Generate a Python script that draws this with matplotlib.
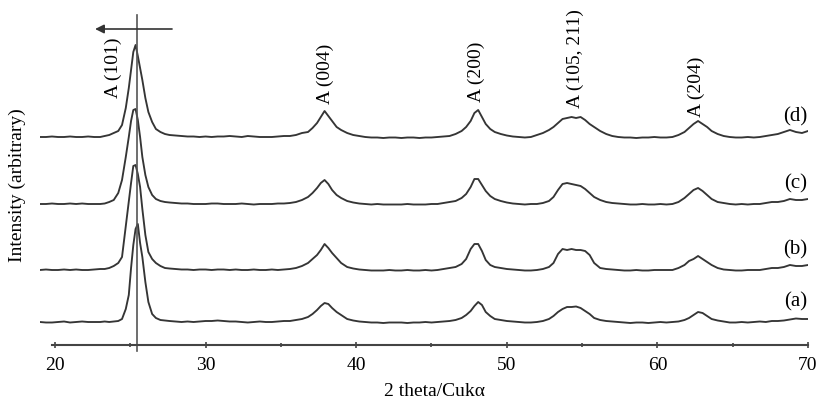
import matplotlib
matplotlib.use("Agg")
import matplotlib.pyplot as plt
from matplotlib.ticker import MultipleLocator

# ---- data (2-theta grid and intensities above each pattern's own baseline) ----
two_theta = [
    19.0, 19.4, 19.8, 20.2, 20.6, 21.0, 21.4, 21.8, 22.2, 22.6,
    23.0, 23.3, 23.6, 23.9, 24.2, 24.45, 24.7, 24.9, 25.05, 25.2,
    25.35, 25.5, 25.65, 25.8, 26.0, 26.2, 26.45, 26.7, 27.0, 27.3,
    27.6, 28.0, 28.4, 28.8, 29.2, 29.6, 30.0, 30.4, 30.8, 31.2,
    31.6, 32.0, 32.4, 32.8, 33.2, 33.6, 34.0, 34.4, 34.8, 35.2,
    35.6, 36.0, 36.4, 36.8, 37.1, 37.4, 37.65, 37.9, 38.15, 38.4,
    38.7, 39.0, 39.4, 39.8, 40.2, 40.6, 41.0, 41.4, 41.8, 42.2,
    42.6, 43.0, 43.4, 43.8, 44.2, 44.6, 45.0, 45.4, 45.8, 46.2,
    46.6, 47.0, 47.3, 47.6, 47.85, 48.1, 48.35, 48.6, 48.9, 49.2,
    49.6, 50.0, 50.4, 50.8, 51.2, 51.6, 52.0, 52.4, 52.8, 53.1,
    53.4, 53.7, 54.0, 54.3, 54.6, 54.9, 55.2, 55.5, 55.8, 56.2,
    56.6, 57.0, 57.4, 57.8, 58.2, 58.6, 59.0, 59.4, 59.8, 60.2,
    60.6, 61.0, 61.4, 61.8, 62.1, 62.4, 62.7, 63.0, 63.3, 63.6,
    64.0, 64.4, 64.8, 65.2, 65.6, 66.0, 66.4, 66.8, 67.2, 67.6,
    68.0, 68.4, 68.8, 69.2, 69.6, 70.0,
]

int_a = [
    1, 0.5, 0.5, 1, 1.5, 0.5, 1, 1.5, 1, 1,
    1, 1.5, 1, 1.5, 2, 4, 14, 28, 55, 78,
    94, 99, 80, 66, 41, 21, 9, 5, 3, 2.5,
    2, 1.5, 1, 1.5, 1, 1.5, 2, 2, 2.5, 2,
    1.5, 1.5, 1, 0.5, 1, 1.5, 1, 1, 1.5, 2,
    2, 3, 4, 6, 9, 13, 17, 20, 19, 15,
    11, 8, 4, 2.5, 1.5, 1, 0.5, 0.5, 0, 0.5,
    0.5, 0.5, 0, 0.5, 0.5, 1, 0.5, 1, 1.5, 2,
    3, 5, 8, 12, 17, 21, 18, 11, 7, 4,
    3, 2, 1.5, 1, 0.5, 0.5, 1, 2, 4, 7,
    11, 14, 16, 16, 16.5, 15, 12, 9, 5, 3,
    2, 1.5, 1, 0.5, 0, 0.5, 0.5, 0, 0.5, 1,
    0.5, 1, 1.5, 3, 5, 8, 11, 10, 7, 4,
    2.5, 1.5, 0.5, 0.5, 1, 0.5, 1, 1.5, 1, 2,
    2, 2.5, 3.5, 4.5, 4, 4,
]

int_b = [
    1, 1.5, 1, 1, 1.5, 1, 1.5, 1, 1, 1.5,
    2, 2, 3, 5, 8, 14, 45, 70, 88, 105,
    106, 97, 84, 62, 36, 19, 12, 8, 5, 3,
    2.5, 2, 1.5, 1.5, 1, 1.5, 1.5, 1, 1.5, 1.5,
    1, 1.5, 1, 1, 1.5, 1, 1, 1.5, 1, 1.5,
    2, 3, 5, 8, 12, 16, 21, 27, 23, 18,
    13, 8, 4, 2.5, 1.5, 1, 0.5, 0.5, 0.5, 1,
    0.5, 0.5, 1, 0.5, 0.5, 1, 0.5, 1, 2, 3,
    4, 7, 12, 22, 27, 27, 20, 11, 6, 4,
    3, 2, 1.5, 1, 0.5, 0.5, 1, 2, 4, 8,
    17, 22, 21, 22, 21, 21, 20, 16, 8, 3,
    2, 1.5, 1, 0.5, 0.5, 1, 0.5, 0.5, 1, 1,
    1, 1, 3, 6, 10, 12, 15, 12, 9, 6,
    3, 1.5, 1, 0.5, 0.5, 1, 1, 1, 2, 3,
    3, 4, 6, 5, 5, 6,
]

int_c = [
    1, 1, 1.5, 1, 1, 1.5, 1, 1.5, 1, 1,
    1, 1.5, 3, 5, 12, 25, 48, 68, 84, 95,
    96, 85, 68, 48, 30, 18, 10, 6, 4, 3,
    2.5, 2, 1.5, 1.5, 1, 1, 1, 1.5, 1.5, 1,
    1, 1, 1.5, 1, 0.5, 1, 1, 1, 1.5, 1.5,
    2, 3, 5, 8, 12, 17, 22, 25, 21, 15,
    10, 7, 4, 2.5, 1.5, 1, 0.5, 1, 0.5, 0.5,
    0.5, 0.5, 1, 0.5, 0.5, 0.5, 1, 1, 2, 3,
    4, 7, 11, 18, 26, 26, 20, 14, 9, 6,
    4, 2.5, 1.5, 1, 0.5, 1, 1, 2, 4, 8,
    15, 21, 22, 21, 20, 19, 16, 12, 8, 5,
    3, 2, 1.5, 1, 0.5, 0.5, 1, 0.5, 0.5, 1,
    0.5, 1, 3, 7, 11, 15, 17, 14, 10, 6,
    3, 2, 1, 0.5, 1, 0.5, 1, 1, 2, 3,
    3, 4, 6, 5, 5, 6,
]

int_d = [
    1, 1, 1.5, 1, 1, 1.5, 1, 1, 1.5, 1,
    1, 2, 3, 5, 7, 13, 30, 50, 68, 86,
    93, 82, 70, 58, 40, 26, 16, 9, 6, 4,
    3, 2.5, 2, 1.5, 1.5, 1, 1.5, 1, 1.5, 1.5,
    2, 1.5, 1, 2, 1.5, 1, 1, 1, 1.5, 2,
    2, 3, 5, 6, 10, 15, 21, 27, 22, 17,
    11, 8, 5, 3, 2, 1, 0.5, 0.5, 0, 0.5,
    0.5, 0, 0.5, 0.5, 0, 0.5, 0.5, 1, 1.5, 2,
    4, 7, 11, 17, 25, 28, 21, 14, 9, 6,
    4, 2.5, 1.5, 1, 0.5, 1, 3, 5, 8, 11,
    15, 19, 20, 21, 20, 21, 18, 14, 11, 7,
    4, 2, 1, 0.5, 0.5, 0, 0.5, 0.5, 1, 0.5,
    0.5, 1, 3, 6, 10, 14, 17, 14, 11, 7,
    4, 2, 1, 0.5, 0.5, 1, 0.5, 1, 2, 3,
    4, 6, 8, 6, 5, 7,
]

patterns = ["(a)", "(b)", "(c)", "(d)"]
offsets = [22, 74, 140, 207]

peak_labels = ["A (101)", "A (004)", "A (200)", "A (105, 211)", "A (204)"]
peak_label_x = [23.9, 37.93, 47.95, 54.53, 62.56]
peak_label_y = [247, 241, 243, 237, 228]

# ---- figure ----
plt.rcParams["font.family"] = ["Liberation Serif", "DejaVu Serif"]
fig = plt.figure(figsize=(8.19, 4.03), dpi=100)
ax = fig.add_axes([39.94 / 819, 58 / 403, (808 - 39.94) / 819, 340 / 403])

line_color = "#353535"
for name, off, ys in zip(patterns, offsets, [int_a, int_b, int_c, int_d]):
    ax.plot(two_theta, [v + off for v in ys], color=line_color, lw=1.35)

for name, off in zip(patterns, offsets):
    ax.text(69.93, off + 21, name, ha="right", va="center", fontsize=15)

for lab, lx, ly in zip(peak_labels, peak_label_x, peak_label_y):
    ax.text(lx, ly, lab, rotation=90, ha="center", va="bottom", fontsize=14)

# reference line and shift arrow
ax.plot([25.44, 25.44], [-6, 330], color="#555555", lw=1.2, clip_on=False)
ax.annotate("", xy=(22.66, 316), xytext=(27.77, 316),
            arrowprops=dict(arrowstyle="-|>", color="#333333", lw=1.2,
                            mutation_scale=13, shrinkA=0, shrinkB=0),
            annotation_clip=False)

ax.set_xlim(19.0, 70.0)
ax.set_ylim(0, 340)
for s in ["left", "right", "top"]:
    ax.spines[s].set_visible(False)
ax.spines["bottom"].set_bounds(19.8, 70)
ax.spines["bottom"].set_color("#444444")
ax.spines["bottom"].set_linewidth(1.5)
ax.set_yticks([])
ax.xaxis.set_major_locator(MultipleLocator(10))
ax.xaxis.set_minor_locator(MultipleLocator(5))
ax.tick_params(axis="x", which="major", direction="inout", length=5, width=1.2,
               color="#444444", labelsize=14, pad=6)
ax.tick_params(axis="x", which="minor", direction="inout", length=3, width=1.2,
               color="#444444")

ax.text(45.2, -47, "2 theta/Cukα", ha="center", va="center", fontsize=14)
fig.text(17 / 819, 1 - 185 / 403, "Intensity (arbitrary)", rotation=90,
         ha="center", va="center", fontsize=14)

fig.savefig("out.png", dpi=100)
